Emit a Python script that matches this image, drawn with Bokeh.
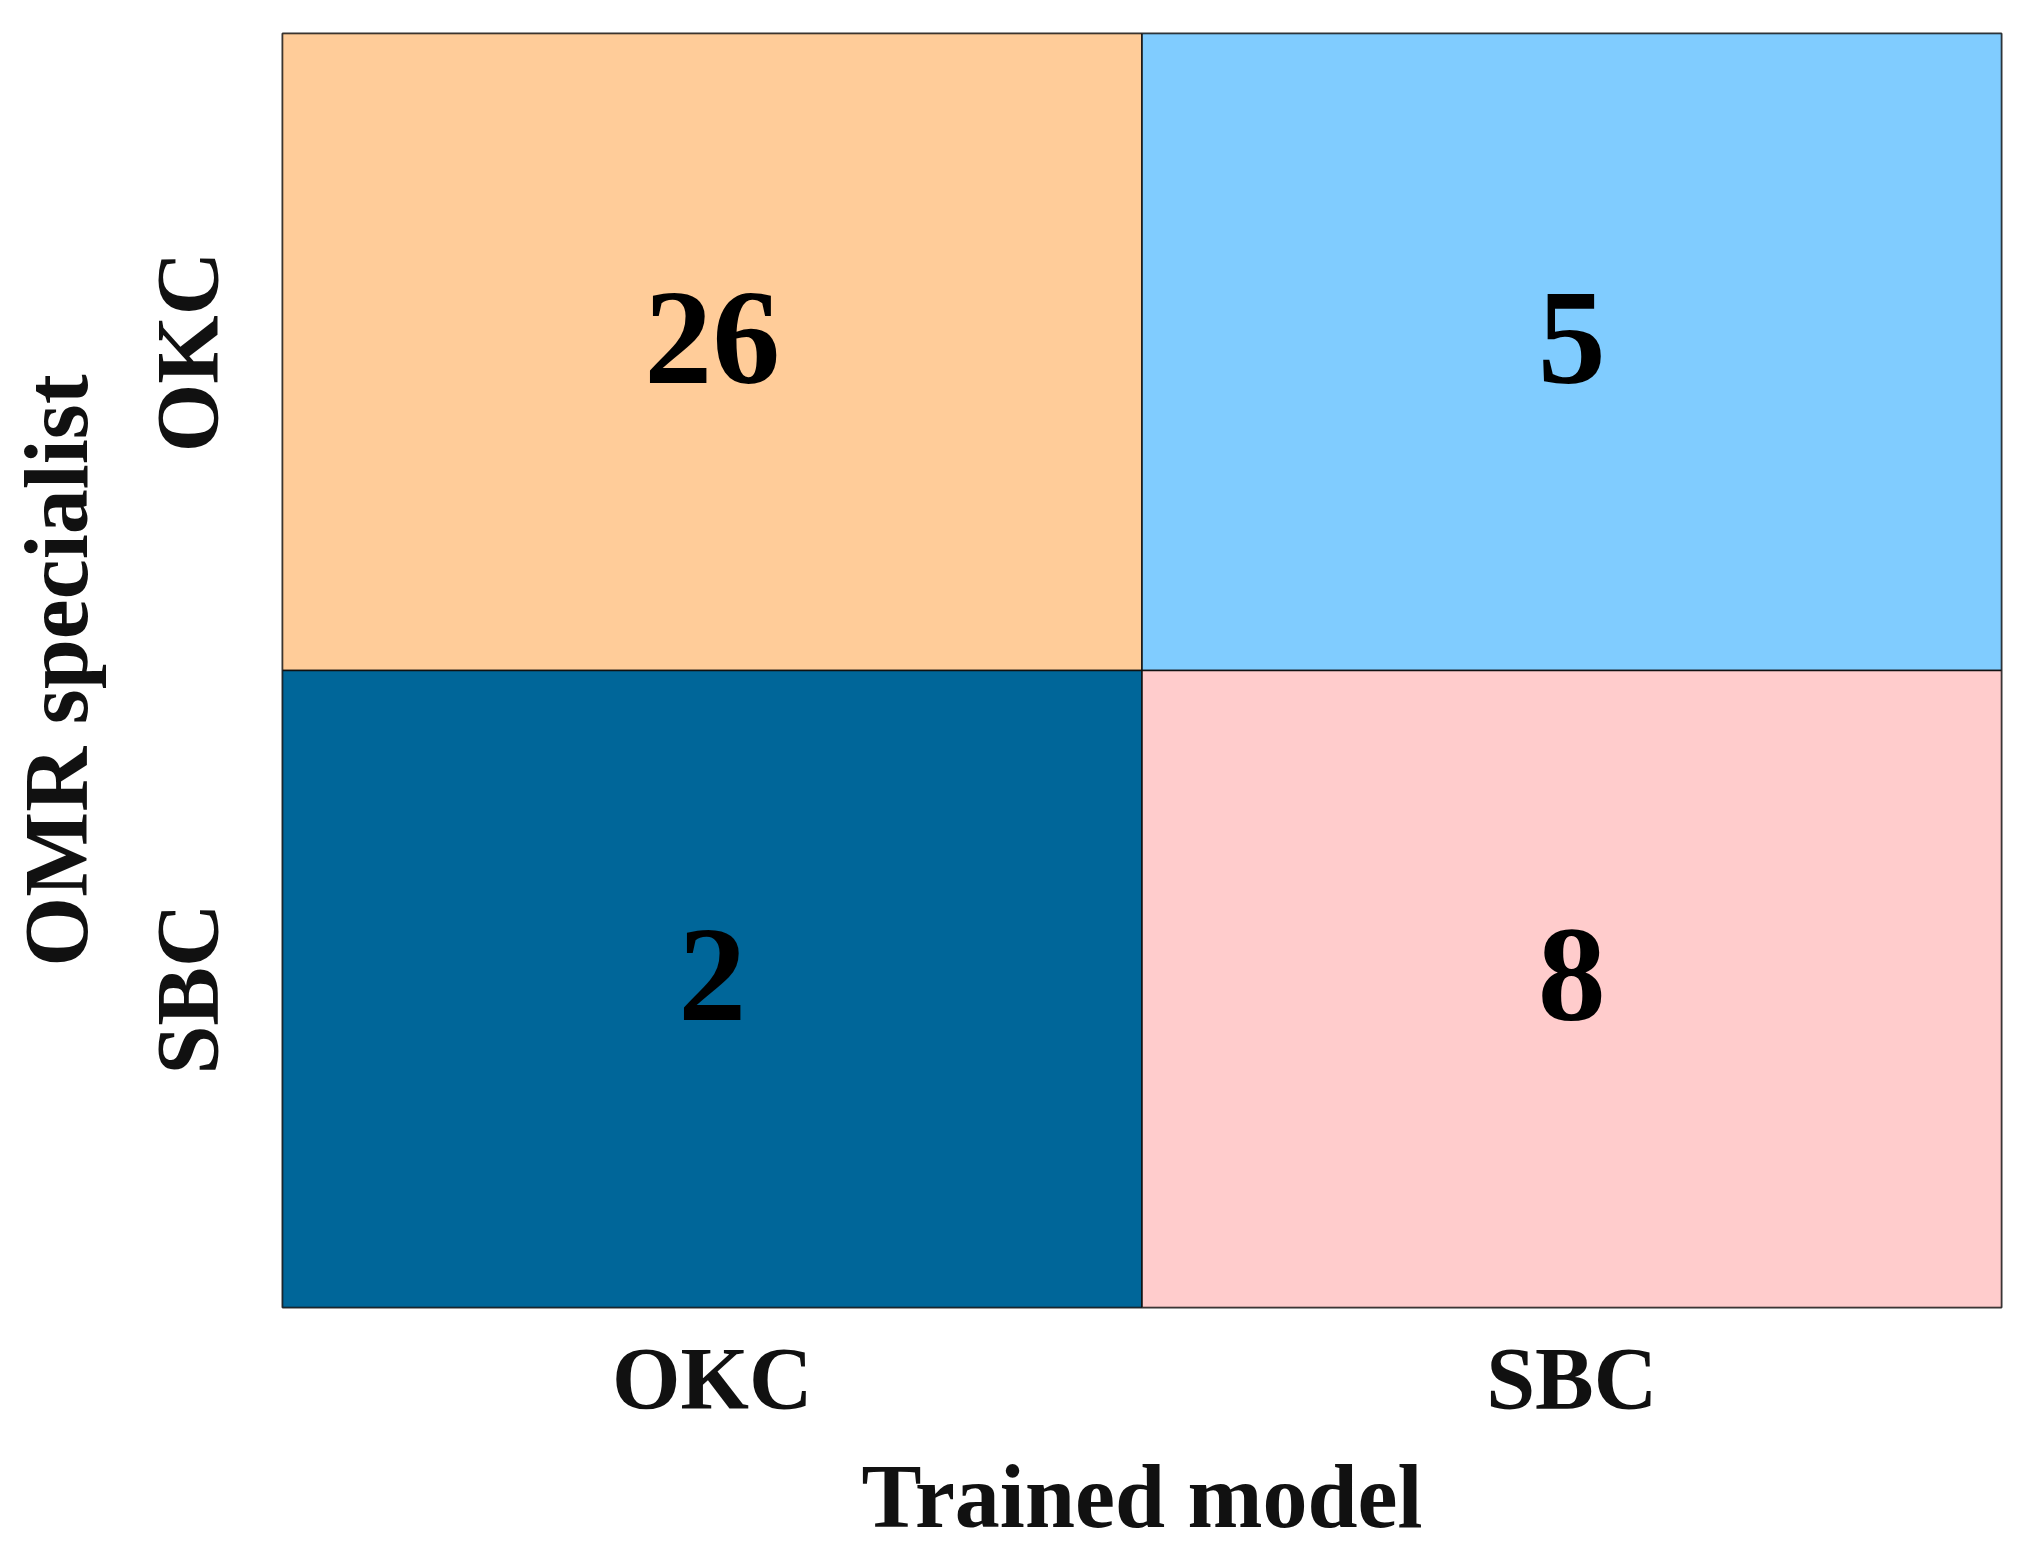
from bokeh.plotting import figure
from bokeh.models import ColumnDataSource
from bokeh.core.properties import value
from bokeh.embed import file_html
from bokeh.resources import INLINE

classes = ["OKC", "SBC"]
true_labels = ["OKC", "OKC", "SBC", "SBC"]
pred_labels = ["OKC", "SBC", "OKC", "SBC"]
counts = [26, 5, 2, 8]
cell_colors = ["#FFCC99", "#80CCFF", "#006699", "#FFCCCC"]
x_title = "Trained model"
y_title = "OMR specialist"

src = ColumnDataSource(dict(
    x=pred_labels, y=true_labels, c=cell_colors,
    t=[str(v) for v in counts],
))

FONT = "Liberation Serif"

p = figure(width=2020, height=1548, x_range=classes, y_range=classes[::-1],
           output_backend="svg", toolbar_location=None,
           min_border_left=282, min_border_top=33, min_border_right=19, min_border_bottom=216)

p.rect(x="x", y="y", width=1, height=1, source=src, fill_color="c",
       line_color="#111111", line_width=1.5)
p.text(x="x", y="y", text="t", source=src, text_align="center", text_baseline="middle",
       text_font=value(FONT), text_font_style="bold", text_font_size="136px",
       text_color="black", y_offset=-14)

p.grid.visible = False
p.outline_line_color = "#333333"
p.outline_line_width = 2
p.background_fill_color = "white"

for ax in (p.xaxis[0], p.yaxis[0]):
    ax.axis_line_color = None
    ax.major_tick_line_color = None
    ax.minor_tick_line_color = None
    ax.major_tick_out = 0
    ax.major_label_text_font = FONT
    ax.major_label_text_font_style = "bold"
    ax.major_label_text_font_size = "88px"
    ax.major_label_text_color = "#111111"
    ax.axis_label_text_font = FONT
    ax.axis_label_text_font_style = "bold"
    ax.axis_label_text_font_size = "90px"
    ax.axis_label_text_color = "#111111"

p.xaxis.axis_label = x_title
p.yaxis.axis_label = y_title
p.yaxis.major_label_orientation = "vertical"
p.xaxis.major_label_standoff = 22
p.xaxis.axis_label_standoff = 17
p.yaxis.major_label_standoff = 47
p.yaxis.axis_label_standoff = 30

open("out.html", "w").write(file_html(p, INLINE))
